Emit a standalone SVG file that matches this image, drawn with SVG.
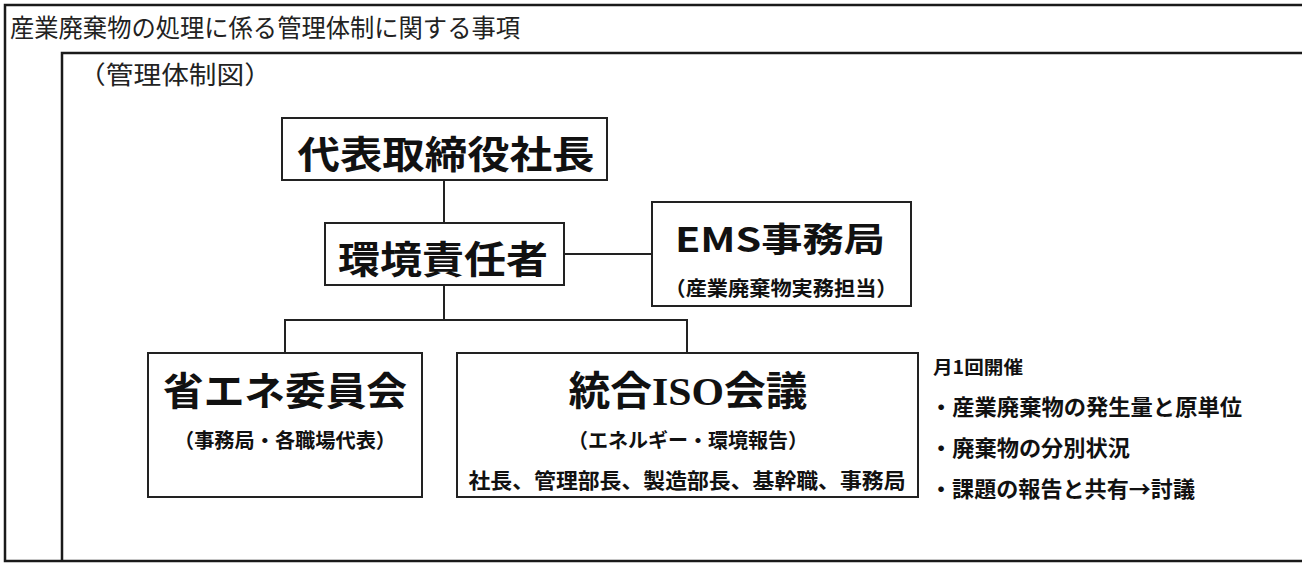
<svg xmlns="http://www.w3.org/2000/svg" width="1302" height="563" viewBox="0 0 1302 563">
<style>
.frame{fill:none;stroke:#1a1a1a;stroke-width:2.5}
.box{fill:#fff;stroke:#222;stroke-width:2}
.conn{fill:none;stroke:#222;stroke-width:2}
.t{font-family:"Noto Sans CJK JP","Noto Sans CJK SC",sans-serif;font-weight:700;fill:#111}
.h{font-family:"Liberation Serif","Noto Sans CJK JP",serif;font-weight:400;fill:#222}
.c{text-anchor:middle}
</style>
<rect x="0" y="0" width="1302" height="563" fill="#fff"/>
<g id="frame">
<path class="frame" d="M1302 5 H5 V561 H1302"/>
<path class="frame" d="M1302 53 H62 V561"/>
<text class="h" x="10" y="37" font-size="25" textLength="510" lengthAdjust="spacingAndGlyphs">産業廃棄物の処理に係る管理体制に関する事項</text>
<text class="h" x="78" y="84" font-size="25" textLength="194" lengthAdjust="spacingAndGlyphs">（管理体制図）</text>
</g>
<g id="connectors">
<path class="conn" d="M444 180 V223"/>
<path class="conn" d="M564 254 H652"/>
<path class="conn" d="M444 285 V320"/>
<path class="conn" d="M285 353 V320 H687 V353"/>
</g>
<g id="president">
<rect class="box" x="282" y="118" width="325" height="62"/>
<text class="t c" x="446" y="168" font-size="38" textLength="297" lengthAdjust="spacingAndGlyphs">代表取締役社長</text>
</g>
<g id="env-manager">
<rect class="box" x="325" y="223" width="239" height="62"/>
<text class="t c" x="443" y="273" font-size="38" textLength="210" lengthAdjust="spacingAndGlyphs">環境責任者</text>
</g>
<g id="ems-office">
<rect class="box" x="652" y="202" width="259" height="104"/>
<text class="t c" x="780" y="252" font-size="34" textLength="210" lengthAdjust="spacingAndGlyphs">EMS事務局</text>
<text class="t c" x="781" y="296" font-size="20" textLength="233" lengthAdjust="spacingAndGlyphs">（産業廃棄物実務担当）</text>
</g>
<g id="energy-committee">
<rect class="box" x="148" y="353" width="274" height="144"/>
<text class="t c" x="285" y="405" font-size="39" textLength="244" lengthAdjust="spacingAndGlyphs">省エネ委員会</text>
<text class="t c" x="285" y="448" font-size="20" textLength="222" lengthAdjust="spacingAndGlyphs">（事務局・各職場代表）</text>
</g>
<g id="iso-meeting">
<rect class="box" x="457" y="353" width="461" height="144"/>
<text class="t c" x="688" y="405" font-size="40" textLength="239" lengthAdjust="spacingAndGlyphs">統合<tspan font-family="Liberation Serif,serif">ISO</tspan>会議</text>
<text class="t c" x="688" y="448" font-size="20" textLength="240" lengthAdjust="spacingAndGlyphs">（エネルギー・環境報告）</text>
<text class="t c" x="687" y="488" font-size="21" textLength="437" lengthAdjust="spacingAndGlyphs">社長、管理部長、製造部長、基幹職、事務局</text>
</g>
<g id="notes">
<text class="t" x="933" y="374" font-size="18" textLength="90" lengthAdjust="spacingAndGlyphs">月1回開催</text>
<text class="t" x="930" y="415" font-size="22" textLength="312" lengthAdjust="spacingAndGlyphs">・産業廃棄物の発生量と原単位</text>
<text class="t" x="930" y="456" font-size="22" textLength="200" lengthAdjust="spacingAndGlyphs">・廃棄物の分別状況</text>
<text class="t" x="930" y="497" font-size="22" textLength="265" lengthAdjust="spacingAndGlyphs">・課題の報告と共有→討議</text>
</g>
</svg>
